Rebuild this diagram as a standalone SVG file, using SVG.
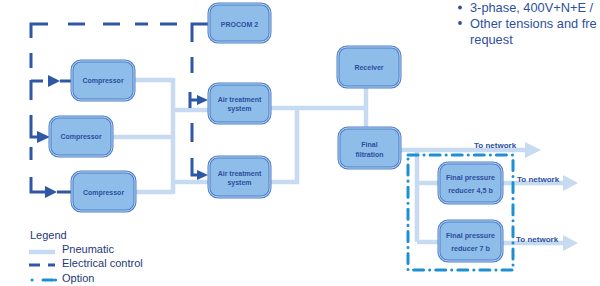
<svg xmlns="http://www.w3.org/2000/svg" width="600" height="286" viewBox="0 0 600 286">
<defs>
<style>
.bo{fill:#8fbde9;stroke:#4f80c9;stroke-width:3}
.bi{fill:none;stroke:#c8def5;stroke-width:0.9}
.bt{font-family:"Liberation Sans",Arial,sans-serif;font-weight:bold;font-size:7px;fill:#2c4f9e;text-anchor:middle}
.pn{fill:none;stroke:#c6daf2;stroke-width:4.5}
.ph{fill:#c6daf2}
.el{fill:none;stroke:#2e57a6;stroke-width:3}
.ea{fill:#2e57a6}
.op{fill:none;stroke:#1c90d2;stroke-width:3;stroke-linecap:round;stroke-dasharray:10 6 0.1 6}
.nt{font-family:"Liberation Sans",Arial,sans-serif;font-weight:bold;font-size:8px;fill:#2c4f9e}
.lg{font-family:"Liberation Sans",Arial,sans-serif;font-size:11px;fill:#25397a}
.tr{font-family:"Liberation Sans",Arial,sans-serif;font-size:12.8px;fill:#2d4fa0}
</style>
</defs>
<rect width="600" height="286" fill="#ffffff"/>

<g id="connectors">
  <path class="pn" d="M134,80H173M112,137H173M135,192H173M173,78V194M173,110H209M173,182H209M270,108H366M270,182H297V108M366,87V128M400,150H526M417,150V242M417,183H439M417,242H439M502,183H564M502,243H564"/>
  <polygon class="ph" points="525,142 541,150 525,158"/>
  <polygon class="ph" points="563,175 578,183 563,191"/>
  <polygon class="ph" points="563,235 578,243 563,251"/>
  <path class="el" d="M209,24H192V42M177,24H160M148,24H135M120,24H103M85,24H68M48,24H31V38M31,53V68M31,80V100M31,81H43M60,81H72M31,115V137H37M31,147V160M31,177V192H45M57,192H72M192,57V73M190,92V108M190,100H197M192,123V142M192,158V175H197"/>
  <polygon class="ea" points="48,75 60,81 48,87"/>
  <polygon class="ea" points="37,131 50,137 37,143"/>
  <polygon class="ea" points="45,186 57,192 45,198"/>
  <polygon class="ea" points="197,95 208,100 197,105"/>
  <polygon class="ea" points="197,170 208,175 197,180"/>
  <rect class="op" x="408" y="155" width="105" height="115"/>
</g>

<g id="procom">
  <rect class="bo" x="209" y="4" width="61" height="38" rx="9"/>
  <rect class="bi" x="209" y="4" width="61" height="38" rx="9"/>
  <text class="bt" x="239.5" y="26.5">PROCOM 2</text>
</g>
<g id="compressor1">
  <rect class="bo" x="72" y="61" width="62" height="39" rx="9"/>
  <rect class="bi" x="72" y="61" width="62" height="39" rx="9"/>
  <text class="bt" x="103" y="83">Compressor</text>
</g>
<g id="compressor2">
  <rect class="bo" x="50" y="117" width="62" height="39" rx="9"/>
  <rect class="bi" x="50" y="117" width="62" height="39" rx="9"/>
  <text class="bt" x="81" y="139">Compressor</text>
</g>
<g id="compressor3">
  <rect class="bo" x="72" y="172" width="63" height="39" rx="9"/>
  <rect class="bi" x="72" y="172" width="63" height="39" rx="9"/>
  <text class="bt" x="103.5" y="194.5">Compressor</text>
</g>
<g id="airtreatment1">
  <rect class="bo" x="209" y="84" width="61" height="39" rx="9"/>
  <rect class="bi" x="209" y="84" width="61" height="39" rx="9"/>
  <text class="bt" x="239.5" y="101.5">Air treatment</text>
  <text class="bt" x="239.5" y="111">system</text>
</g>
<g id="airtreatment2">
  <rect class="bo" x="209" y="157" width="61" height="40" rx="9"/>
  <rect class="bi" x="209" y="157" width="61" height="40" rx="9"/>
  <text class="bt" x="239.5" y="175.5">Air treatment</text>
  <text class="bt" x="239.5" y="185">system</text>
</g>
<g id="receiver">
  <rect class="bo" x="338" y="47" width="62" height="40" rx="9"/>
  <rect class="bi" x="338" y="47" width="62" height="40" rx="9"/>
  <text class="bt" x="369" y="69.5">Receiver</text>
</g>
<g id="finalfiltration">
  <rect class="bo" x="339" y="128" width="61" height="40" rx="9"/>
  <rect class="bi" x="339" y="128" width="61" height="40" rx="9"/>
  <text class="bt" x="369.5" y="146.5">Final</text>
  <text class="bt" x="369.5" y="156.5">filtration</text>
</g>
<g id="reducer45">
  <rect class="bo" x="439" y="163" width="63" height="40" rx="9"/>
  <rect class="bi" x="439" y="163" width="63" height="40" rx="9"/>
  <text class="bt" x="470.5" y="180" style="font-size:7.2px">Final pressure</text>
  <text class="bt" x="470.5" y="192.5" style="font-size:7.2px">reducer 4,5 b</text>
</g>
<g id="reducer7">
  <rect class="bo" x="439" y="221" width="63" height="40" rx="9"/>
  <rect class="bi" x="439" y="221" width="63" height="40" rx="9"/>
  <text class="bt" x="470.5" y="238" style="font-size:7.2px">Final pressure</text>
  <text class="bt" x="470.5" y="250.5" style="font-size:7.2px">reducer 7 b</text>
</g>

<g id="labels">
  <text class="nt" x="474" y="148">To network</text>
  <text class="nt" x="517" y="182">To network</text>
  <text class="nt" x="516" y="242">To network</text>
</g>

<g id="legend">
  <text class="lg" x="30" y="239">Legend</text>
  <line x1="29" y1="252" x2="55" y2="252" stroke="#c6daf2" stroke-width="4.5"/>
  <text class="lg" x="62" y="253">Pneumatic</text>
  <path d="M29,265H40M48,265H55" stroke="#2e57a6" stroke-width="3"/>
  <text class="lg" x="62" y="267">Electrical control</text>
  <path d="M32,280h0.1M43,280H53M55.5,280h0.1" stroke="#1c90d2" stroke-width="3" stroke-linecap="round"/>
  <text class="lg" x="62" y="282">Option</text>
</g>

<g id="notes">
  <circle cx="460" cy="7.5" r="1.9" fill="#2d4fa0"/>
  <text class="tr" x="470" y="12">3-phase, 400V+N+E /</text>
  <circle cx="460" cy="23" r="1.9" fill="#2d4fa0"/>
  <text class="tr" x="470" y="27.5">Other tensions and fre</text>
  <text class="tr" x="470" y="44">request</text>
</g>
</svg>
